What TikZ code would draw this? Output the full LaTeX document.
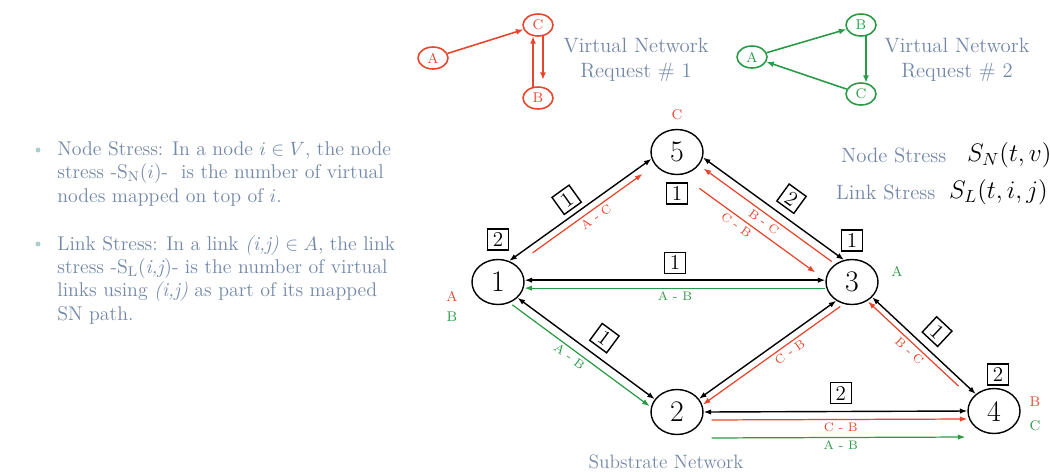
\documentclass[tikz,border=0pt]{standalone}
\usetikzlibrary{shapes.geometric,arrows.meta,positioning}
\definecolor{vred}{HTML}{E8452C}
\definecolor{vgreen}{HTML}{2A9A46}
\definecolor{vtext}{HTML}{7388A8}
\definecolor{vdot}{HTML}{A9CFCB}

\begin{document}
\begin{tikzpicture}[x=0.02cm,y=-0.02cm,
  snode/.style={ellipse,draw,line width=0.8pt,minimum width=10.4mm,minimum height=9mm,inner sep=0pt,font=\fontsize{17}{17}\selectfont},
  vnode/.style={ellipse,draw=#1,line width=0.9pt,minimum width=6mm,minimum height=4.4mm,inner sep=0pt,text=#1,font=\fontsize{8}{8}\selectfont},
  vlink/.style={#1,line width=0.9pt,-{Latex[length=1.5mm,width=1.2mm]}},
  slink/.style={line width=0.8pt,{Latex[length=1.5mm,width=1.1mm]}-{Latex[length=1.5mm,width=1.1mm]}},
  mlink/.style={#1,line width=0.7pt},
  toarr/.style={-{Latex[length=1.5mm,width=1.1mm]}},
  fromarr/.style={{Latex[length=1.5mm,width=1.1mm]}-},
  numbox/.style={draw,line width=0.8pt,minimum size=4.2mm,inner sep=0pt,font=\fontsize{12}{12}\selectfont},
  flow/.style={text=#1,font=\fontsize{7}{7}\selectfont,inner sep=1.5pt},
  note/.style={text=vtext,font=\fontsize{11.8}{14}\selectfont},
]
  \useasboundingbox[fill=white] (0,0) rectangle (1050,471);

  % Bullet text on the left
  \fill[vdot] (38,150) circle (2.5);
  \fill[vdot] (38,244) circle (2.5);
  \node[text=vtext,font=\fontsize{11.3}{13.3}\selectfont,align=left,anchor=north west,inner sep=0pt] (ntext) at (57,141)
    {Node Stress: In a node $i \in V$, the node\\
     stress -S$_{\mathrm{N}}$($i$)-~ is the number of virtual\\
     nodes mapped on top of $i$.};
  \node[text=vtext,font=\fontsize{11.3}{13.3}\selectfont,align=left,anchor=north west,inner sep=0pt] (ltext) at (57,235)
    {Link Stress: In a link \textit{(i,j)} $\in A$, the link\\
     stress -S$_{\mathrm{L}}$(\textit{i,j})- is the number of virtual\\
     links using \textit{(i,j)} as part of its mapped\\
     SN path.};

  % Virtual network request 1
  \node[vnode=vred] (v1a) at (433,58) {A};
  \node[vnode=vred] (v1c) at (538,25) {C};
  \node[vnode=vred] (v1b) at (538,98) {B};
  \draw[vlink=vred] (v1a) -- (v1c);
  \draw[vlink=vred] (v1b.114) -- (v1c.246);
  \draw[vlink=vred,shorten >=1.4mm] (v1c.294) -- (v1b.66);
  \node[note,align=center] (vn1) at (636,60) {Virtual Network\\Request \# 1};

  % Virtual network request 2
  \node[vnode=vgreen] (v2a) at (752,57) {A};
  \node[vnode=vgreen] (v2b) at (861,25) {B};
  \node[vnode=vgreen] (v2c) at (861,94) {C};
  \draw[vlink=vgreen] (v2a) -- (v2b);
  \draw[vlink=vgreen] (v2b.294) -- (v2c.66);
  \draw[vlink=vgreen] (v2c) -- (v2a);
  \node[note,align=center] (vn2) at (957,60) {Virtual Network\\Request \# 2};

  % Legend
  \node[note,anchor=west] (nsl) at (835,155) {Node Stress};
  \node[anchor=west,font=\fontsize{14}{14}\selectfont] (nsm) at (961,155) {$S_N(t,v)$};
  \node[note,anchor=west] (lsl) at (830,192) {Link Stress};
  \node[anchor=west,font=\fontsize{14}{14}\selectfont] (lsm) at (943,192) {$S_L(t,i,j)$};

  % Substrate nodes
  \node[snode] (n5) at (677,152) {5};
  \node[snode] (n1) at (498,282) {1};
  \node[snode] (n3) at (852,282) {3};
  \node[snode] (n2) at (677,412) {2};
  \node[snode] (n4) at (994,411) {4};

  % Node stress boxes
  \node[numbox,above=1.6mm of n1] (s1) {2};
  \node[numbox,below=1.4mm of n5] (s5) {1};
  \node[numbox,above=1.4mm of n3] (s3) {1};
  \node[numbox,above=0.4mm of n4,xshift=0.8mm] (s4) {2};

  % Mapped virtual nodes
  \node[text=vred,font=\fontsize{8}{8}\selectfont] (m5) at (677,115) {C};
  \node[text=vred,font=\fontsize{8}{8}\selectfont] (m1a) at (452,296) {A};
  \node[text=vgreen,font=\fontsize{8}{8}\selectfont] (m1b) at (452,317) {B};
  \node[text=vgreen,font=\fontsize{8}{8}\selectfont] (m3) at (897,271) {A};
  \node[text=vred,font=\fontsize{8}{8}\selectfont] (m4b) at (1035,402) {B};
  \node[text=vgreen,font=\fontsize{8}{8}\selectfont] (m4c) at (1035,426) {C};

  % Substrate links with link stress
  \draw[slink] (n1.62) -- (n5.195) node[numbox,sloped,above=1mm,pos=0.47] {1};
  \draw[slink] (n5.348) -- (n3.110) node[numbox,sloped,above=1.5mm,pos=0.55] {2};
  \draw[slink] (n1.4) -- (n3.176) node[numbox,above=1.2mm,midway] {1};
  \draw[slink] (n1.321) -- (n2.150) node[numbox,sloped,above=1.6mm,pos=0.55] {1};
  \draw[slink] (n2.31) -- (n3.230);
  \draw[slink] (n3.323) -- (n4.137) node[numbox,sloped,above=1.6mm,pos=0.5] {1};
  \draw[slink] (n2.0) -- (n4.180) node[numbox,above=1.4mm,pos=0.52] {2};

  % Mapped virtual links
  \draw[mlink=vred,toarr,shorten <=4.8mm,shorten >=3.2mm,transform canvas={shift={(4,5.8)}}]
    (n1.62) -- (n5.195) node[flow=vred,sloped,below,pos=0.55] {A - C};
  \draw[mlink=vred,fromarr,shorten <=1.4mm,shorten >=1.8mm,transform canvas={shift={(-5,6.9)}}]
    (n5.348) -- (n3.110) node[flow=vred,sloped,below,pos=0.5] {B - C};
  \draw[mlink=vred,toarr,shorten <=3mm,shorten >=3.2mm,transform canvas={shift={(-15.7,22)}}]
    (n5.348) -- (n3.110) node[flow=vred,sloped,below,pos=0.38] {C - B};
  \draw[mlink=vgreen,fromarr,transform canvas={shift={(0,8)}}]
    (n1.4) -- (n3.176) node[flow=vgreen,below,midway] {A - B};
  \draw[mlink=vgreen,toarr,transform canvas={shift={(-5.2,7)}}]
    (n1.321) -- (n2.150) node[flow=vgreen,sloped,below,pos=0.45] {A - B};
  \draw[mlink=vred,fromarr,transform canvas={shift={(4,5.7)}}]
    (n2.31) -- (n3.230) node[flow=vred,sloped,below,pos=0.6] {C - B};
  \draw[mlink=vred,fromarr,shorten >=3.6mm,transform canvas={shift={(-4.1,4.4)}}]
    (n3.323) -- (n4.137) node[flow=vred,sloped,below,pos=0.45] {B - C};
  \draw[mlink=vred,toarr,shorten <=1.6mm,transform canvas={shift={(0,8)}}]
    (n2.0) -- (n4.180) node[flow=vred,below,pos=0.52] {C - B};
  \draw[mlink=vgreen,toarr,shorten <=1.6mm,shorten >=0.4mm,transform canvas={shift={(0,26)}}]
    (n2.0) -- (n4.180) node[flow=vgreen,below,pos=0.52] {A - B};

  \node[note,font=\fontsize{11}{14}\selectfont] (sn) at (666,462) {Substrate Network};
\end{tikzpicture}
\end{document}
